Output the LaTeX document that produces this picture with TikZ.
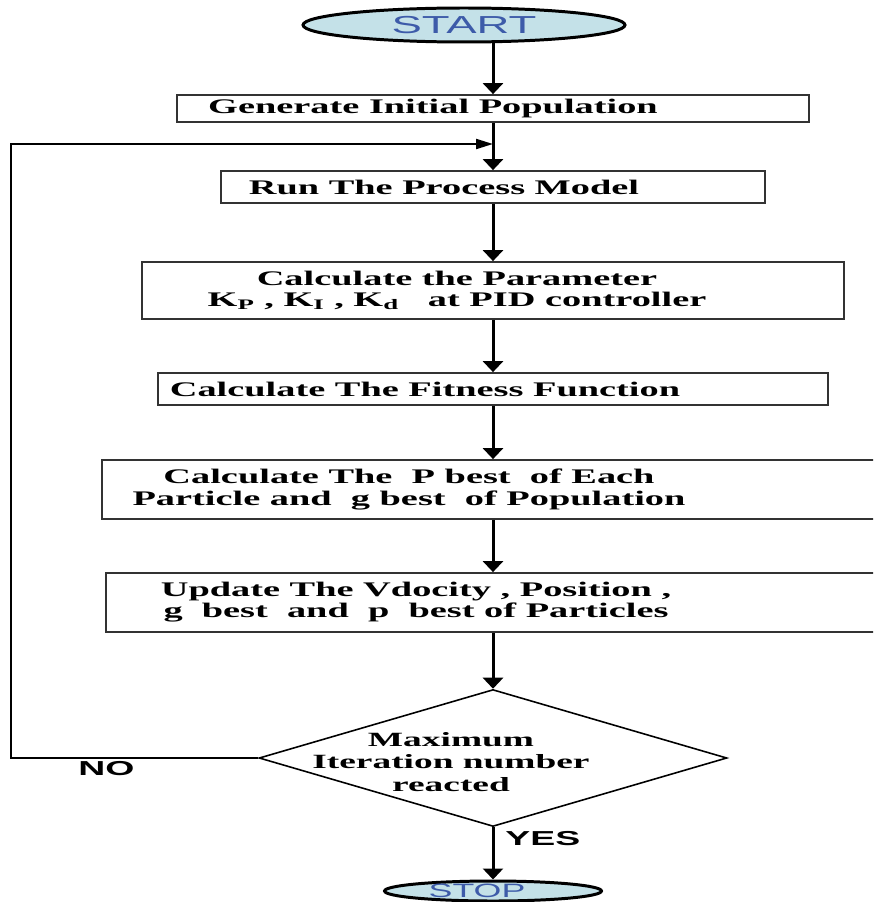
\documentclass[tikz,border=0pt]{standalone}
\usepackage{fontspec}
\setmainfont{Liberation Serif}[FakeStretch=1.85]
\newfontfamily\termfont{Liberation Sans}[FakeStretch=1.85]
\usetikzlibrary{shapes.geometric,arrows.meta,positioning}
\definecolor{termfill}{HTML}{C4E1E8}
\definecolor{termtext}{HTML}{3D5BA9}

\begin{document}
\begin{tikzpicture}[
  x=0.02cm, y=-0.02cm,
  stepbox/.style={rectangle, draw=black!80, line width=1pt, fill=white, inner sep=0pt},
  steptext/.style={font=\fontsize{11.8}{12}\selectfont\bfseries, align=center, inner sep=0pt},
  decision/.style={diamond, draw, line width=0.9pt, inner sep=0pt,
                   minimum width=9.36cm, minimum height=2.74cm},
  terminal/.style={ellipse, draw, line width=1.7pt, fill=termfill, inner sep=0pt, text=termtext},
  tag/.style={font=\termfont\fontsize{11.5}{12}\selectfont\bfseries, inner sep=0pt},
  >={Triangle[width=0.4cm,length=0.22cm]}, line width=1.7pt,
]
  \path[use as bounding box, clip] (0,0) rectangle (873,902);

  \node[terminal, minimum width=6.44cm, minimum height=0.68cm,
        font=\termfont\fontsize{14}{14}\selectfont] (start) at (464,25) {START};

  \node[stepbox, minimum width=12.64cm, minimum height=0.54cm] (b1) at (493,108.5) {};
  \node[steptext] (t1) at ([xshift=-1.2cm]b1.center) {Generate Initial Population};

  \node[stepbox, minimum width=10.88cm, minimum height=0.64cm] (b2) at (493,187) {};
  \node[steptext] (t2) at ([xshift=-0.98cm]b2.center) {Run The Process Model};

  \node[stepbox, minimum width=14.04cm, minimum height=1.14cm] (b3) at (493,290.5) {};
  \node[steptext] (t3) at ([xshift=-0.72cm]b3.center)
    {Calculate the Parameter\\
     K\textsubscript{P} , K\textsubscript{I} , K\textsubscript{d} \ \ at PID controller};

  \node[stepbox, minimum width=13.4cm, minimum height=0.64cm] (b4) at (493,389) {};
  \node[steptext] (t4) at ([xshift=-1.36cm]b4.center) {Calculate The Fitness Function};

  \node[stepbox, minimum width=15.64cm, minimum height=1.18cm] (b5) at (493,489.5) {};
  \node[steptext] (t5) at ([xshift=-1.68cm]b5.center)
    {Calculate The~ P best~ of Each\\
     Particle and~ g best~ of Population};

  \node[stepbox, minimum width=15.48cm, minimum height=1.18cm] (b6) at (493,602.5) {};
  \node[steptext] (t6) at ([xshift=-1.54cm]b6.center)
    {Update The Vdocity , Position ,\\
     g~ best~ and~ p~ best of Particles};

  \node[decision] (dec) at (493,758) {};
  \node[steptext, font=\fontsize{11.5}{12.8}\selectfont\bfseries] (t7)
    at ([xshift=-0.84cm,yshift=-0.08cm]dec.center) {Maximum\\Iteration number\\reacted};

  \node[terminal, minimum width=4.34cm, minimum height=0.4cm] (stop) at (493,891) {};
  \node[inner sep=0pt, text=termtext, font=\termfont\fontsize{11}{11}\selectfont] (t8)
    at ([xshift=-0.32cm]stop.center) {STOP};

  % main flow
  \draw[->] (start.south -| b1.north) -- (b1.north);
  \draw[->] (b1) -- (b2);
  \draw[->] (b2) -- (b3);
  \draw[->] (b3) -- (b4);
  \draw[->] (b4) -- (b5);
  \draw[->] (b5) -- (b6);
  \draw[->] (b6) -- (dec);
  \draw[->] (dec) -- node[tag, anchor=west, pos=0.22, xshift=0.22cm] (yes) {YES} (stop);

  % loop back
  \coordinate (join) at (493,144);
  \draw[->, line width=1.2pt, >={Triangle[width=0.2cm,length=0.34cm]}]
    (dec.west) -- ++(-247,0) node[tag, anchor=north, pos=0.615, yshift=-0.04cm] (no) {NO}
    |- (join);
\end{tikzpicture}
\end{document}
